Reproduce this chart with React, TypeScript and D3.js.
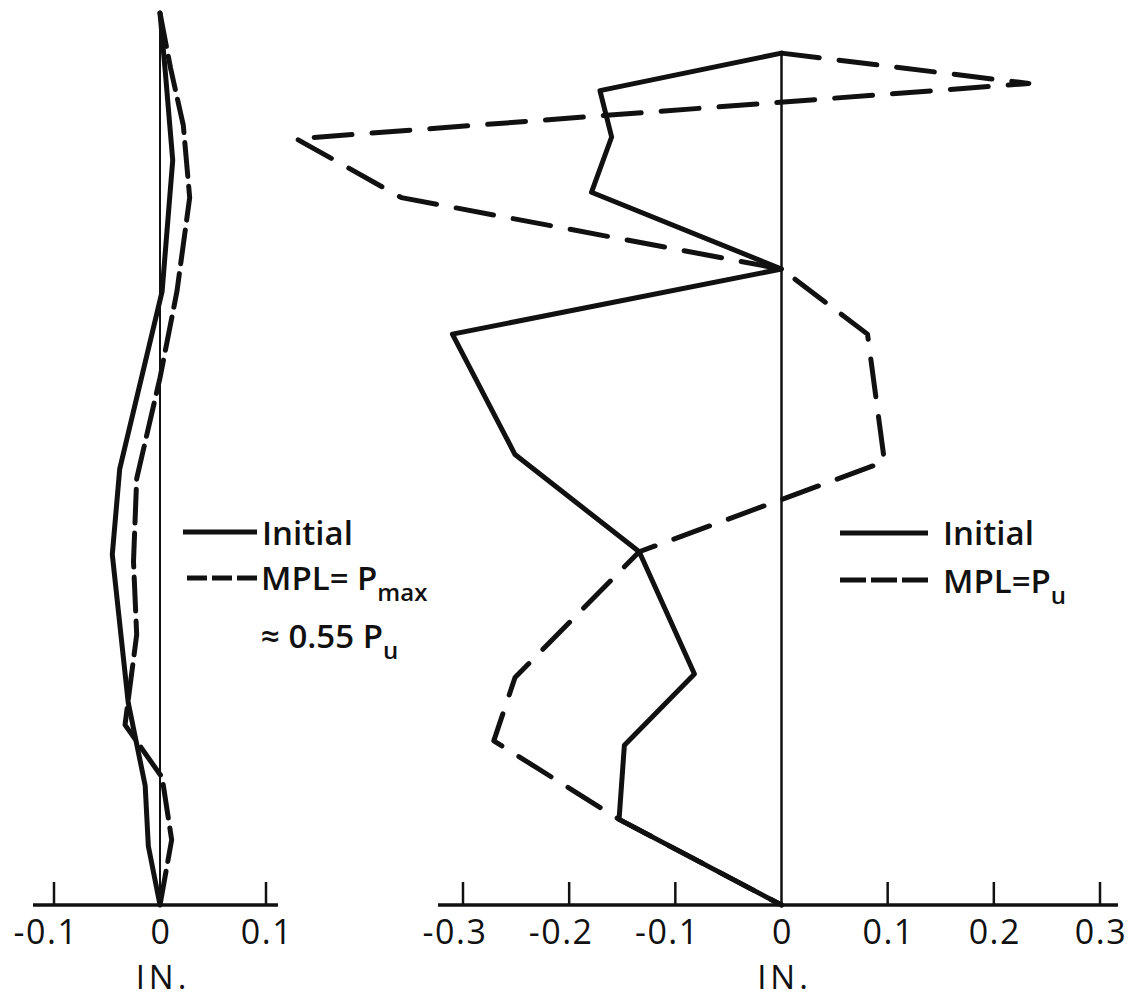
import React from 'react';
import * as d3 from 'd3';

// heights are in % of the left frame height (bottom = 0)
// left frame: MPL = Pmax ~ 0.55 Pu
const leftInitialX = [0, 0.005, 0.012, 0.002, -0.038, -0.045, -0.03, -0.014, -0.011, 0];
const leftInitialH = [100, 93.4, 83.5, 68.8, 48.9, 39.3, 22.7, 13.4, 6.6, 0];
const leftMplX = [0, 0.01, 0.022, 0.028, 0.016, 0, -0.022, -0.025, -0.022, -0.033, 0.002, 0.011, 0];
const leftMplH = [100, 93.8, 87.4, 79.3, 68.8, 59.1, 47.8, 38.5, 30.3, 20.2, 14.3, 7.3, 0];

// right frame: MPL = Pu
const rightInitialX = [0, -0.171, -0.16, -0.179, 0, -0.31, -0.251, -0.134, -0.082, -0.148, -0.153, 0];
const rightInitialH = [95.5, 91.3, 86.1, 79.9, 71.3, 64.0, 50.5, 39.6, 25.9, 17.9, 9.6, 0];
const rightMplX = [0, 0.233, -0.457, -0.358, 0, 0.081, 0.097, -0.134, -0.251, -0.271, -0.153, 0];
const rightMplH = [95.5, 92.1, 85.9, 79.3, 71.3, 64.0, 49.7, 39.6, 25.5, 18.4, 9.6, 0];

const leftTicks = [-0.1, 0, 0.1];
const rightTicks = [-0.3, -0.2, -0.1, 0, 0.1, 0.2, 0.3];

const FONT = '"Open Sans", "DejaVu Sans", sans-serif';

const toPts = (xs: number[], hs: number[]) => xs.map((x, i) => ({ x, h: hs[i] }));

function App() {
  const width = 1133;
  const height = 1003;
  const axisY = 905;

  const y = d3.scaleLinear().domain([0, 100]).range([axisY, 13]);
  const xLeft = d3.scaleLinear().domain([-0.1, 0.1]).range([54, 266]);
  const xRight = d3.scaleLinear().domain([-0.3, 0.3]).range([463, 1100]);

  const lineL = d3.line<{ x: number; h: number }>().x(d => xLeft(d.x)).y(d => y(d.h));
  const lineR = d3.line<{ x: number; h: number }>().x(d => xRight(d.x)).y(d => y(d.h));

  const fmt = (d: number) => (d === 0 ? '0' : d3.format('.1f')(d).replace('−', '-'));

  const ticks = (scale: d3.ScaleLinear<number, number>, vals: number[]) =>
    vals.map(v => (
      <g key={v}>
        {v !== 0 && (
          <line x1={scale(v)} x2={scale(v)} y1={axisY - 23} y2={axisY} stroke="#111" strokeWidth={2.5} />
        )}
        <text
          x={scale(v)}
          dx={v < 0 ? -8 : 1}
          y={axisY + 39}
          textAnchor="middle"
          fontSize={34}
          letterSpacing={1.5}
          fontFamily={FONT}
          fontWeight={500}
          fill="#111"
        >
          {fmt(v)}
        </text>
      </g>
    ));

  const lineStyle = { fill: 'none', stroke: '#111', strokeWidth: 5, strokeLinejoin: 'round' as const, strokeLinecap: 'round' as const };

  const inLabel = (x: number) => (
    <text x={x + 3} y={989} textAnchor="middle" fontSize={33} letterSpacing={4} fontFamily={FONT} fontWeight={500} fill="#111">
      IN.
    </text>
  );

  return (
    <svg width={width} height={height} style={{ position: 'absolute', left: 0, top: 0, background: '#fff' }}>
      {/* left frame */}
      <line x1={xLeft(0)} x2={xLeft(0)} y1={y(100)} y2={axisY} stroke="#111" strokeWidth={2} />
      <line x1={33} x2={278} y1={axisY} y2={axisY} stroke="#111" strokeWidth={3.5} />
      {ticks(xLeft, leftTicks)}
      <path d={lineL(toPts(leftInitialX, leftInitialH)) || ''} {...lineStyle} />
      <path d={lineL(toPts(leftMplX, leftMplH)) || ''} {...lineStyle} strokeDasharray="34 10" />
      {inLabel(xLeft(0))}

      {/* left legend */}
      <line x1={183} x2={257} y1={532} y2={532} stroke="#111" strokeWidth={5} />
      <line x1={187} x2={257} y1={578} y2={578} stroke="#111" strokeWidth={5} strokeDasharray="20 5" />
      <g fontFamily={FONT} fontWeight={600} fontSize={33} fill="#111">
        <text x={262} y={545}>Initial</text>
        <text x={261} y={590}>
          MPL= P<tspan fontSize={24} dy={11}>max</tspan>
        </text>
        <text x={261} y={648}>
          ≈ 0.55 P<tspan fontSize={24} dy={11}>u</tspan>
        </text>
      </g>

      {/* right frame */}
      <line x1={xRight(0)} x2={xRight(0)} y1={y(95.5)} y2={axisY} stroke="#111" strokeWidth={2.5} />
      <line x1={438} x2={1118} y1={axisY} y2={axisY} stroke="#111" strokeWidth={3.5} />
      {ticks(xRight, rightTicks)}
      <path d={lineR(toPts(rightInitialX, rightInitialH)) || ''} {...lineStyle} />
      <path d={lineR(toPts(rightMplX, rightMplH)) || ''} {...lineStyle} strokeDasharray="38 20" />
      {inLabel(xRight(0))}

      {/* right legend */}
      <line x1={840} x2={928} y1={533} y2={533} stroke="#111" strokeWidth={5} />
      <line x1={840} x2={928} y1={580} y2={580} stroke="#111" strokeWidth={5} strokeDasharray="26 5" />
      <g fontFamily={FONT} fontWeight={600} fontSize={33} fill="#111">
        <text x={943} y={545}>Initial</text>
        <text x={943} y={593}>
          MPL=P<tspan fontSize={24} dy={11}>u</tspan>
        </text>
      </g>
    </svg>
  );
}

export default App;
